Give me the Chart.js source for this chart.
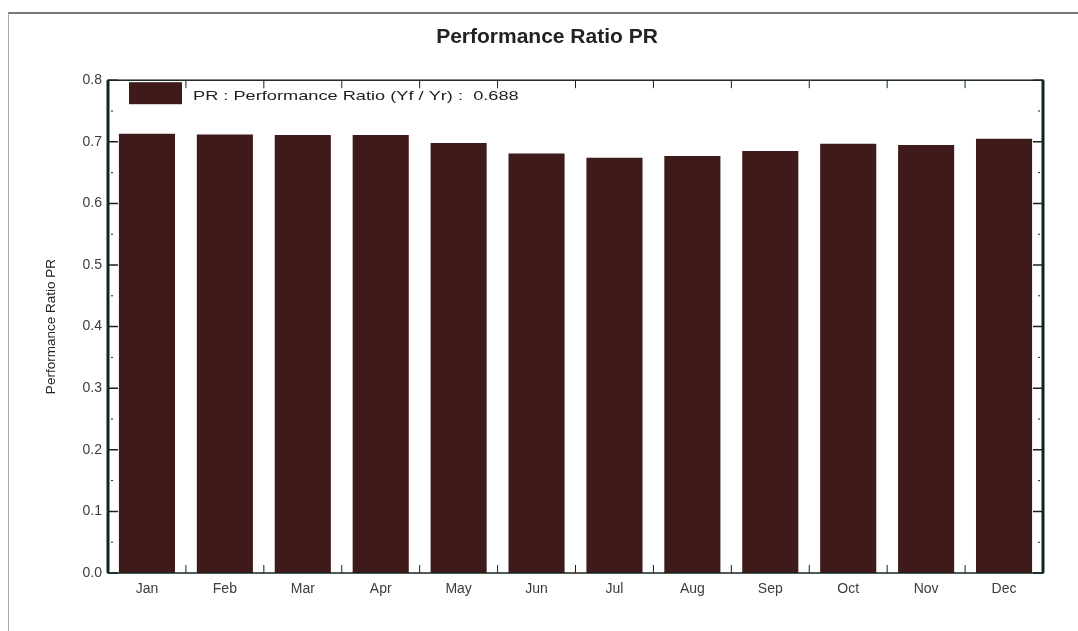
<!DOCTYPE html>
<html>
<head>
<meta charset="utf-8">
<script src="https://cdn.jsdelivr.net/npm/chart.js@4.4.1/dist/chart.umd.min.js"></script>
<style>
    html, body { margin: 0; padding: 0; background: #fff; }
    #wrap { position: relative; width: 1078px; height: 631px; }
    #frame {
        position: absolute; left: 8px; top: 12px; width: 1078px; height: 640px;
        border-top: 2px solid #777; border-left: 1px solid #aaa; pointer-events: none;
    }
</style>
</head>
<body>
<div id="wrap">
    <canvas id="pr-chart" width="1078" height="631"></canvas>
    <div id="frame"></div>
</div>
<script>
// 月份与 PR 值
const months = ['Jan', 'Feb', 'Mar', 'Apr', 'May', 'Jun', 'Jul', 'Aug', 'Sep', 'Oct', 'Nov', 'Dec'];
const prValues = [0.713, 0.712, 0.711, 0.711, 0.698, 0.681, 0.674, 0.677, 0.685, 0.697, 0.695, 0.705];
const yTicks = [0.0, 0.1, 0.2, 0.3, 0.4, 0.5, 0.6, 0.7, 0.8];
const legendText = 'PR : Performance Ratio (Yf / Yr) :  0.688';

const barColor = '#3f1a1a';
const axisColor = '#14241c';
const textColor = '#3c3c3c';
const fontFamily = '"Liberation Sans", Arial, sans-serif';

// 边框、刻度、图例
const framePlugin = {
    id: 'framePlugin',
    afterDatasetsDraw(chart) {
        const { ctx, chartArea: a, scales } = chart;
        const xs = scales.x;
        const ys = scales.y;
        ctx.save();
        ctx.strokeStyle = axisColor;

        // 内向刻度 (y)
        ctx.lineWidth = 1.5;
        yTicks.forEach(v => {
            const y = ys.getPixelForValue(v);
            ctx.beginPath();
            ctx.moveTo(a.left, y); ctx.lineTo(a.left + 10, y);
            ctx.moveTo(a.right, y); ctx.lineTo(a.right - 10, y);
            ctx.stroke();
        });
        // 次刻度
        ctx.lineWidth = 1;
        for (let i = 0; i < yTicks.length - 1; i++) {
            const y = ys.getPixelForValue((yTicks[i] + yTicks[i + 1]) / 2);
            ctx.beginPath();
            ctx.moveTo(a.left + 3, y); ctx.lineTo(a.left + 5, y);
            ctx.moveTo(a.right - 3, y); ctx.lineTo(a.right - 5, y);
            ctx.stroke();
        }
        // x 刻度 (类别边界)
        const step = (a.right - a.left) / months.length;
        for (let i = 1; i < months.length; i++) {
            const x = xs.getPixelForValue(i) - step / 2;
            ctx.beginPath();
            ctx.moveTo(x, a.bottom); ctx.lineTo(x, a.bottom - 8);
            ctx.moveTo(x, a.top); ctx.lineTo(x, a.top + 8);
            ctx.stroke();
        }

        // 外框
        ctx.lineWidth = 1.5;
        ctx.strokeRect(a.left, a.top, a.right - a.left, a.bottom - a.top);
        ctx.lineWidth = 3;
        ctx.beginPath();
        ctx.moveTo(a.left, a.top); ctx.lineTo(a.left, a.bottom);
        ctx.moveTo(a.right, a.top); ctx.lineTo(a.right, a.bottom);
        ctx.stroke();

        // 图例 (原图文字横向拉宽)
        const ds = chart.data.datasets[0];
        ctx.fillStyle = ds.backgroundColor;
        ctx.fillRect(a.left + 21, a.top + 2, 53, 22);
        ctx.fillStyle = '#222';
        ctx.font = '13px ' + fontFamily;
        ctx.textBaseline = 'middle';
        ctx.translate(a.left + 85, a.top + 16);
        ctx.scale(1.4, 1);
        ctx.fillText(ds.label, 0, 0);
        ctx.restore();
    }
};

new Chart(document.getElementById('pr-chart').getContext('2d'), {
    type: 'bar',
    data: {
        labels: months,
        datasets: [{
            label: legendText,
            data: prValues,
            backgroundColor: barColor,
            borderWidth: 0,
            barPercentage: 0.72,
            categoryPercentage: 1.0
        }]
    },
    options: {
        responsive: false,
        animation: false,
        layout: { padding: { left: 51, right: 35, top: 0, bottom: 0 } },
        plugins: {
            legend: { display: false },
            tooltip: { enabled: false },
            title: {
                display: true,
                text: 'Performance Ratio PR',
                color: '#222',
                font: { family: fontFamily, size: 21, weight: 'bold', lineHeight: 1.2 },
                padding: { top: 25, bottom: 30 }
            }
        },
        scales: {
            x: {
                grid: { display: false, drawTicks: false },
                border: { display: false },
                ticks: {
                    color: textColor,
                    font: { family: fontFamily, size: 14 },
                    padding: 8,
                    maxRotation: 0
                },
                afterFit(scale) { scale.height = 58; }
            },
            y: {
                min: 0,
                max: 0.8,
                grid: { display: false, drawTicks: false },
                border: { display: false },
                ticks: {
                    stepSize: 0.1,
                    color: textColor,
                    font: { family: fontFamily, size: 14 },
                    padding: 6,
                    callback: v => Number(v).toFixed(1)
                },
                title: {
                    display: true,
                    text: 'Performance Ratio PR',
                    color: '#222',
                    font: { family: fontFamily, size: 13.5 },
                    padding: { top: -8, bottom: 0 }
                },
                afterFit(scale) { scale.width = 57; }
            }
        }
    },
    plugins: [framePlugin]
});
</script>
</body>
</html>
